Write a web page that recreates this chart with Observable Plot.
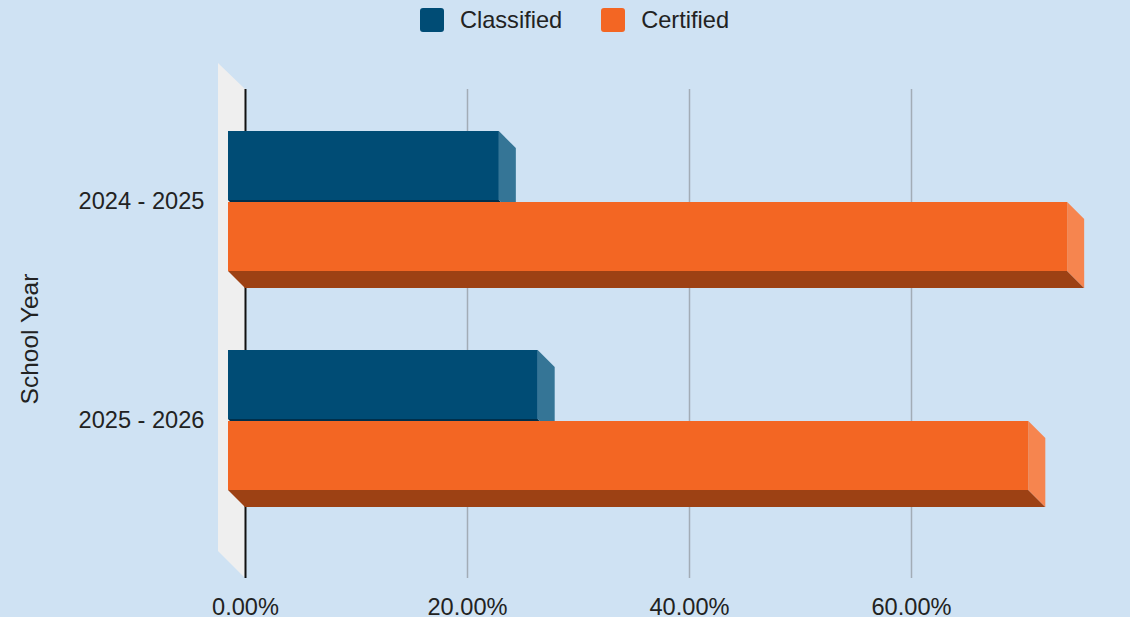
<!DOCTYPE html>
<html>
<head>
<meta charset="utf-8">
<script src="https://cdn.jsdelivr.net/npm/d3@7"></script>
<script src="https://cdn.jsdelivr.net/npm/@observablehq/plot@0.6"></script>
<style>
  html, body { margin: 0; padding: 0; background: #cfe2f3; overflow: hidden; }
  body { width: 1130px; height: 617px; font-family: "Liberation Sans", Arial, sans-serif; color: #222; }
  #legend { height: 40px; display: flex; justify-content: center; align-items: center; font-size: 23.6px; padding-left: 19px; }
  .item { display: flex; align-items: center; }
  .item + .item { margin-left: 39px; }
  .sw { width: 24px; height: 24px; border-radius: 3px; margin-right: 16px; }
</style>
</head>
<body>
<div id="legend"></div>
<div id="chart"></div>
<script>
// ---- data ----
const years = ["2024 - 2025", "2025 - 2026"];
const series = ["Classified", "Certified"];
const classified = [0.244, 0.279];
const certified = [0.756, 0.721];
const xTicks = [0, 0.2, 0.4, 0.6];

// ---- styles ----
const faceColors = {
  Classified: {front: "#004c75", side: "#357596", bottom: "#002f4b"},
  Certified: {front: "#f36623", side: "#f6854f", bottom: "#9d4114"}
};

const rows = years.flatMap((year, i) => [
  {year, series: "Classified", value: classified[i]},
  {year, series: "Certified", value: certified[i]}
]);

// legend
const legend = document.getElementById("legend");
for (const s of series) {
  const it = document.createElement("div");
  it.className = "item";
  const sw = document.createElement("div");
  sw.className = "sw";
  sw.style.background = faceColors[s].front;
  const t = document.createElement("span");
  t.textContent = s;
  it.append(sw, t);
  legend.append(it);
}

const D = 17;      // 3D depth offset
const GAP = 2;     // gap between the two series bars

function wall(index, scales, values, dims) {
  const x0 = scales.x(0);
  const top = dims.marginTop, bot = dims.height - dims.marginBottom;
  const g = d3.create("svg:g");
  g.append("polygon")
    .attr("points", [[x0 - 27, top - 26], [x0, top], [x0, bot], [x0 - 27, bot - 27]].map(p => p.join(",")).join(" "))
    .attr("fill", "#efefef");
  return g.node();
}

function bars3d(index, scales) {
  const {x, y} = scales;
  const bw = y.bandwidth();
  const h = (bw - GAP) / 2;
  const g = d3.create("svg:g");
  for (const i of index) {
    const d = rows[i];
    const c = faceColors[d.series];
    const x0 = x(0), x1 = x(d.value);
    const yt = y(d.year) + (d.series === "Classified" ? 0 : h + GAP);
    const yb = yt + h;
    const fx0 = x0 - D, fx1 = x1 - D, ft = yt - D, fb = yb - D;
    const pts = a => a.map(p => p.join(",")).join(" ");
    g.append("polygon").attr("points", pts([[fx0, fb], [fx1, fb], [x1, yb], [x0, yb]])).attr("fill", c.bottom);
    g.append("polygon").attr("points", pts([[fx1, ft], [x1, yt], [x1, yb], [fx1, fb]])).attr("fill", c.side);
    g.append("rect").attr("x", fx0).attr("y", ft).attr("width", fx1 - fx0).attr("height", fb - ft).attr("fill", c.front);
  }
  return g.node();
}

const chart = Plot.plot({
  width: 1130,
  height: 577,
  marginLeft: 245,
  marginRight: -3,
  marginTop: 49,
  marginBottom: 39,
  style: {background: "transparent", fontFamily: "'Liberation Sans', Arial, sans-serif", fontSize: "23.6px", color: "#222"},
  x: {domain: [0, 0.8]},
  y: {type: "band", domain: years, paddingInner: 0.359, paddingOuter: 0.291, align: 0.453},
  marks: [
    wall,
    Plot.ruleX(xTicks.filter(d => d > 0), {stroke: "#a2acb6", strokeWidth: 1.5}),
    Plot.ruleX([0], {stroke: "#111", strokeWidth: 2}),
    Plot.barX(rows, {x: "value", y: "year", render: bars3d}),
    Plot.axisX(xTicks, {tickFormat: d3.format(".2%"), tickSize: 0, tickPadding: 20, fontSize: 23.6, label: null, fill: "#222"}),
    Plot.axisY({tickSize: 0, tickPadding: 41, dy: -17, fontSize: 23.6, label: null, fill: "#222"}),
    Plot.text(["School Year"], {frameAnchor: "left", rotate: -90, dx: -215, dy: 5, fontSize: 24.5, textAnchor: "middle", fill: "#222"})
  ]
});
document.getElementById("chart").append(chart);
</script>
</body>
</html>
